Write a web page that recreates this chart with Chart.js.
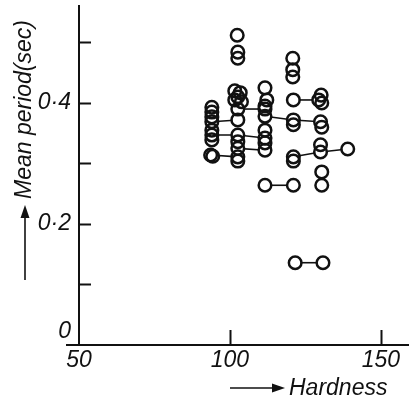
<!DOCTYPE html>
<html><head><meta charset="utf-8">
<script src="https://cdn.jsdelivr.net/npm/chart.js@4/dist/chart.umd.min.js"></script>
<style>html,body{margin:0;padding:0;background:#fff;overflow:hidden}canvas{display:block}</style>
</head><body>
<canvas id="c" width="409" height="399"></canvas>
<script>
// Data
const hardness = [
  94, 94, 94, 94, 94, 94, 94, 93.6, 94.3,
  102.4, 102.6, 102.6, 101.6, 103.4, 102.6, 101.6, 103.8, 102.6, 102.6, 102.6, 102.6, 102.6, 102.6, 102.6,
  111.6, 112.2, 111.6, 111.6, 111.6, 111.6, 111.6, 111.6, 111.6, 111.6,
  120.8, 120.8, 120.8, 121, 121, 121, 121, 121, 121, 121.6,
  130.2, 129.4, 130.4, 130, 130.4, 130, 130, 130.4, 130.4, 130.8,
  139
];
const period = [
  0.393, 0.385, 0.377, 0.369, 0.355, 0.347, 0.339, 0.314, 0.312,
  0.512, 0.484, 0.474, 0.420, 0.417, 0.410, 0.405, 0.402, 0.390, 0.372, 0.347, 0.336, 0.325, 0.311, 0.304,
  0.425, 0.405, 0.395, 0.390, 0.378, 0.355, 0.342, 0.334, 0.322, 0.264,
  0.474, 0.455, 0.443, 0.405, 0.372, 0.364, 0.311, 0.304, 0.264, 0.136,
  0.413, 0.405, 0.400, 0.369, 0.360, 0.331, 0.319, 0.286, 0.264, 0.136,
  0.324
];
// points sharing a non-zero group number are joined by a line
const linkGroup = [
  0, 0, 0, 1, 0, 2, 0, 3, 0,
  0, 0, 0, 0, 0, 0, 0, 0, 5, 1, 2, 0, 4, 3, 0,
  0, 0, 0, 5, 6, 0, 2, 0, 4, 9,
  0, 0, 0, 7, 6, 0, 8, 0, 9, 10,
  0, 7, 0, 6, 0, 0, 8, 0, 0, 10,
  8
];
const xTickValues = [50, 100, 150];
const xTickLabels = ['50', '100', '150'];
const yTickValues = [0, 0.2, 0.4];
const yTickLabels = ['0', '0\u00B72', '0\u00B74'];
const yMarkTicks = [0.1, 0.2, 0.3, 0.4, 0.5];
const xMarkTicks = [100, 150];
const xTitle = 'Hardness';
const yTitle = 'Mean period(sec)';

const INK = '#111';
const pts = hardness.map((h, i) => ({x: h, y: period[i]}));

const datasets = [];
datasets.push({type: 'scatter', data: pts, showLine: false, pointRadius: 6.3, pointBorderWidth: 2.5,
  pointBorderColor: INK, pointBackgroundColor: 'rgba(0,0,0,0)', borderColor: INK});
datasets.push({type: 'scatter', data: pts, showLine: false, pointRadius: 5.5, pointBorderWidth: 0,
  pointBackgroundColor: '#fff', pointBorderColor: '#fff'});
const groups = [...new Set(linkGroup.filter(g => g > 0))];
groups.forEach(g => {
  const d = pts.filter((p, i) => linkGroup[i] === g).sort((a, b) => a.x - b.x);
  datasets.push({type: 'scatter', data: d, showLine: true, borderColor: INK, borderWidth: 1.6,
    pointRadius: 0, pointHoverRadius: 0, fill: false, tension: 0});
});

const deco = {
  id: 'deco',
  afterDraw(chart) {
    const ctx = chart.ctx, xs = chart.scales.x, ys = chart.scales.y;
    const left = xs.left, bottom = ys.bottom;
    ctx.save();
    ctx.strokeStyle = INK; ctx.fillStyle = INK; ctx.lineCap = 'butt';
    // inward ticks
    ctx.lineWidth = 2;
    yMarkTicks.forEach(v => {
      const y = Math.round(ys.getPixelForValue(v)) + 0.5;
      ctx.beginPath(); ctx.moveTo(left, y); ctx.lineTo(left + 12, y); ctx.stroke();
    });
    xMarkTicks.forEach(v => {
      const x = Math.round(xs.getPixelForValue(v)) + 0.5;
      ctx.beginPath(); ctx.moveTo(x, bottom); ctx.lineTo(x, bottom - 15); ctx.stroke();
    });
    // x axis stub left of y axis
    ctx.beginPath(); ctx.moveTo(left - 13, bottom); ctx.lineTo(left, bottom); ctx.stroke();
    // x title with arrow
    ctx.lineWidth = 1.6;
    ctx.beginPath(); ctx.moveTo(230, 388); ctx.lineTo(274, 388); ctx.stroke();
    ctx.beginPath(); ctx.moveTo(285, 388); ctx.lineTo(272, 383.5); ctx.lineTo(272, 392.5); ctx.closePath(); ctx.fill();
    ctx.font = 'italic 23px "Liberation Sans"';
    ctx.textAlign = 'left'; ctx.textBaseline = 'alphabetic';
    ctx.fillText(xTitle, 289, 395);
    // y title with arrow
    ctx.beginPath(); ctx.moveTo(25, 280); ctx.lineTo(25, 216); ctx.stroke();
    ctx.beginPath(); ctx.moveTo(25, 205); ctx.lineTo(20.5, 218); ctx.lineTo(29.5, 218); ctx.closePath(); ctx.fill();
    ctx.translate(31, 199); ctx.rotate(-Math.PI / 2);
    ctx.fillText(yTitle, 0, 0);
    ctx.restore();
  }
};

new Chart(document.getElementById('c'), {
  type: 'scatter',
  data: {datasets},
  plugins: [deco],
  options: {
    responsive: false, animation: false, devicePixelRatio: 1,
    layout: {autoPadding: false, padding: {top: 6, right: 0, left: 0, bottom: 0}},
    plugins: {legend: {display: false}, tooltip: {enabled: false}},
    scales: {
      x: {
        type: 'linear', position: 'bottom', min: 50, max: 159.3,
        afterFit: s => { s.height = 54; s.paddingLeft = 0; s.paddingRight = 0; },
        grid: {display: false, drawTicks: false},
        border: {display: true, color: INK, width: 2},
        ticks: {stepSize: 50, includeBounds: false, autoSkip: false, maxRotation: 0, padding: 2,
          color: INK, font: {family: 'Liberation Sans', style: 'italic', size: 23},
          callback: v => { const i = xTickValues.findIndex(t => Math.abs(t - v) < 1e-6); return i < 0 ? '' : xTickLabels[i]; }}
      },
      y: {
        type: 'linear', position: 'left', min: 0, max: 0.5603,
        afterFit: s => { s.width = 79; s.paddingTop = 0; s.paddingBottom = 0; },
        grid: {display: false, drawTicks: false},
        border: {display: true, color: INK, width: 2},
        ticks: {stepSize: 0.1, includeBounds: false, autoSkip: false, padding: 8,
          color: INK, font: {family: 'Liberation Sans', style: 'italic', size: 23},
          callback: v => { const i = yTickValues.findIndex(t => Math.abs(t - v) < 1e-6); if (i < 0) return ''; return yTickValues[i] === 0 ? [yTickLabels[i], ''] : yTickLabels[i]; }}
      }
    }
  }
});
</script>
</body></html>
